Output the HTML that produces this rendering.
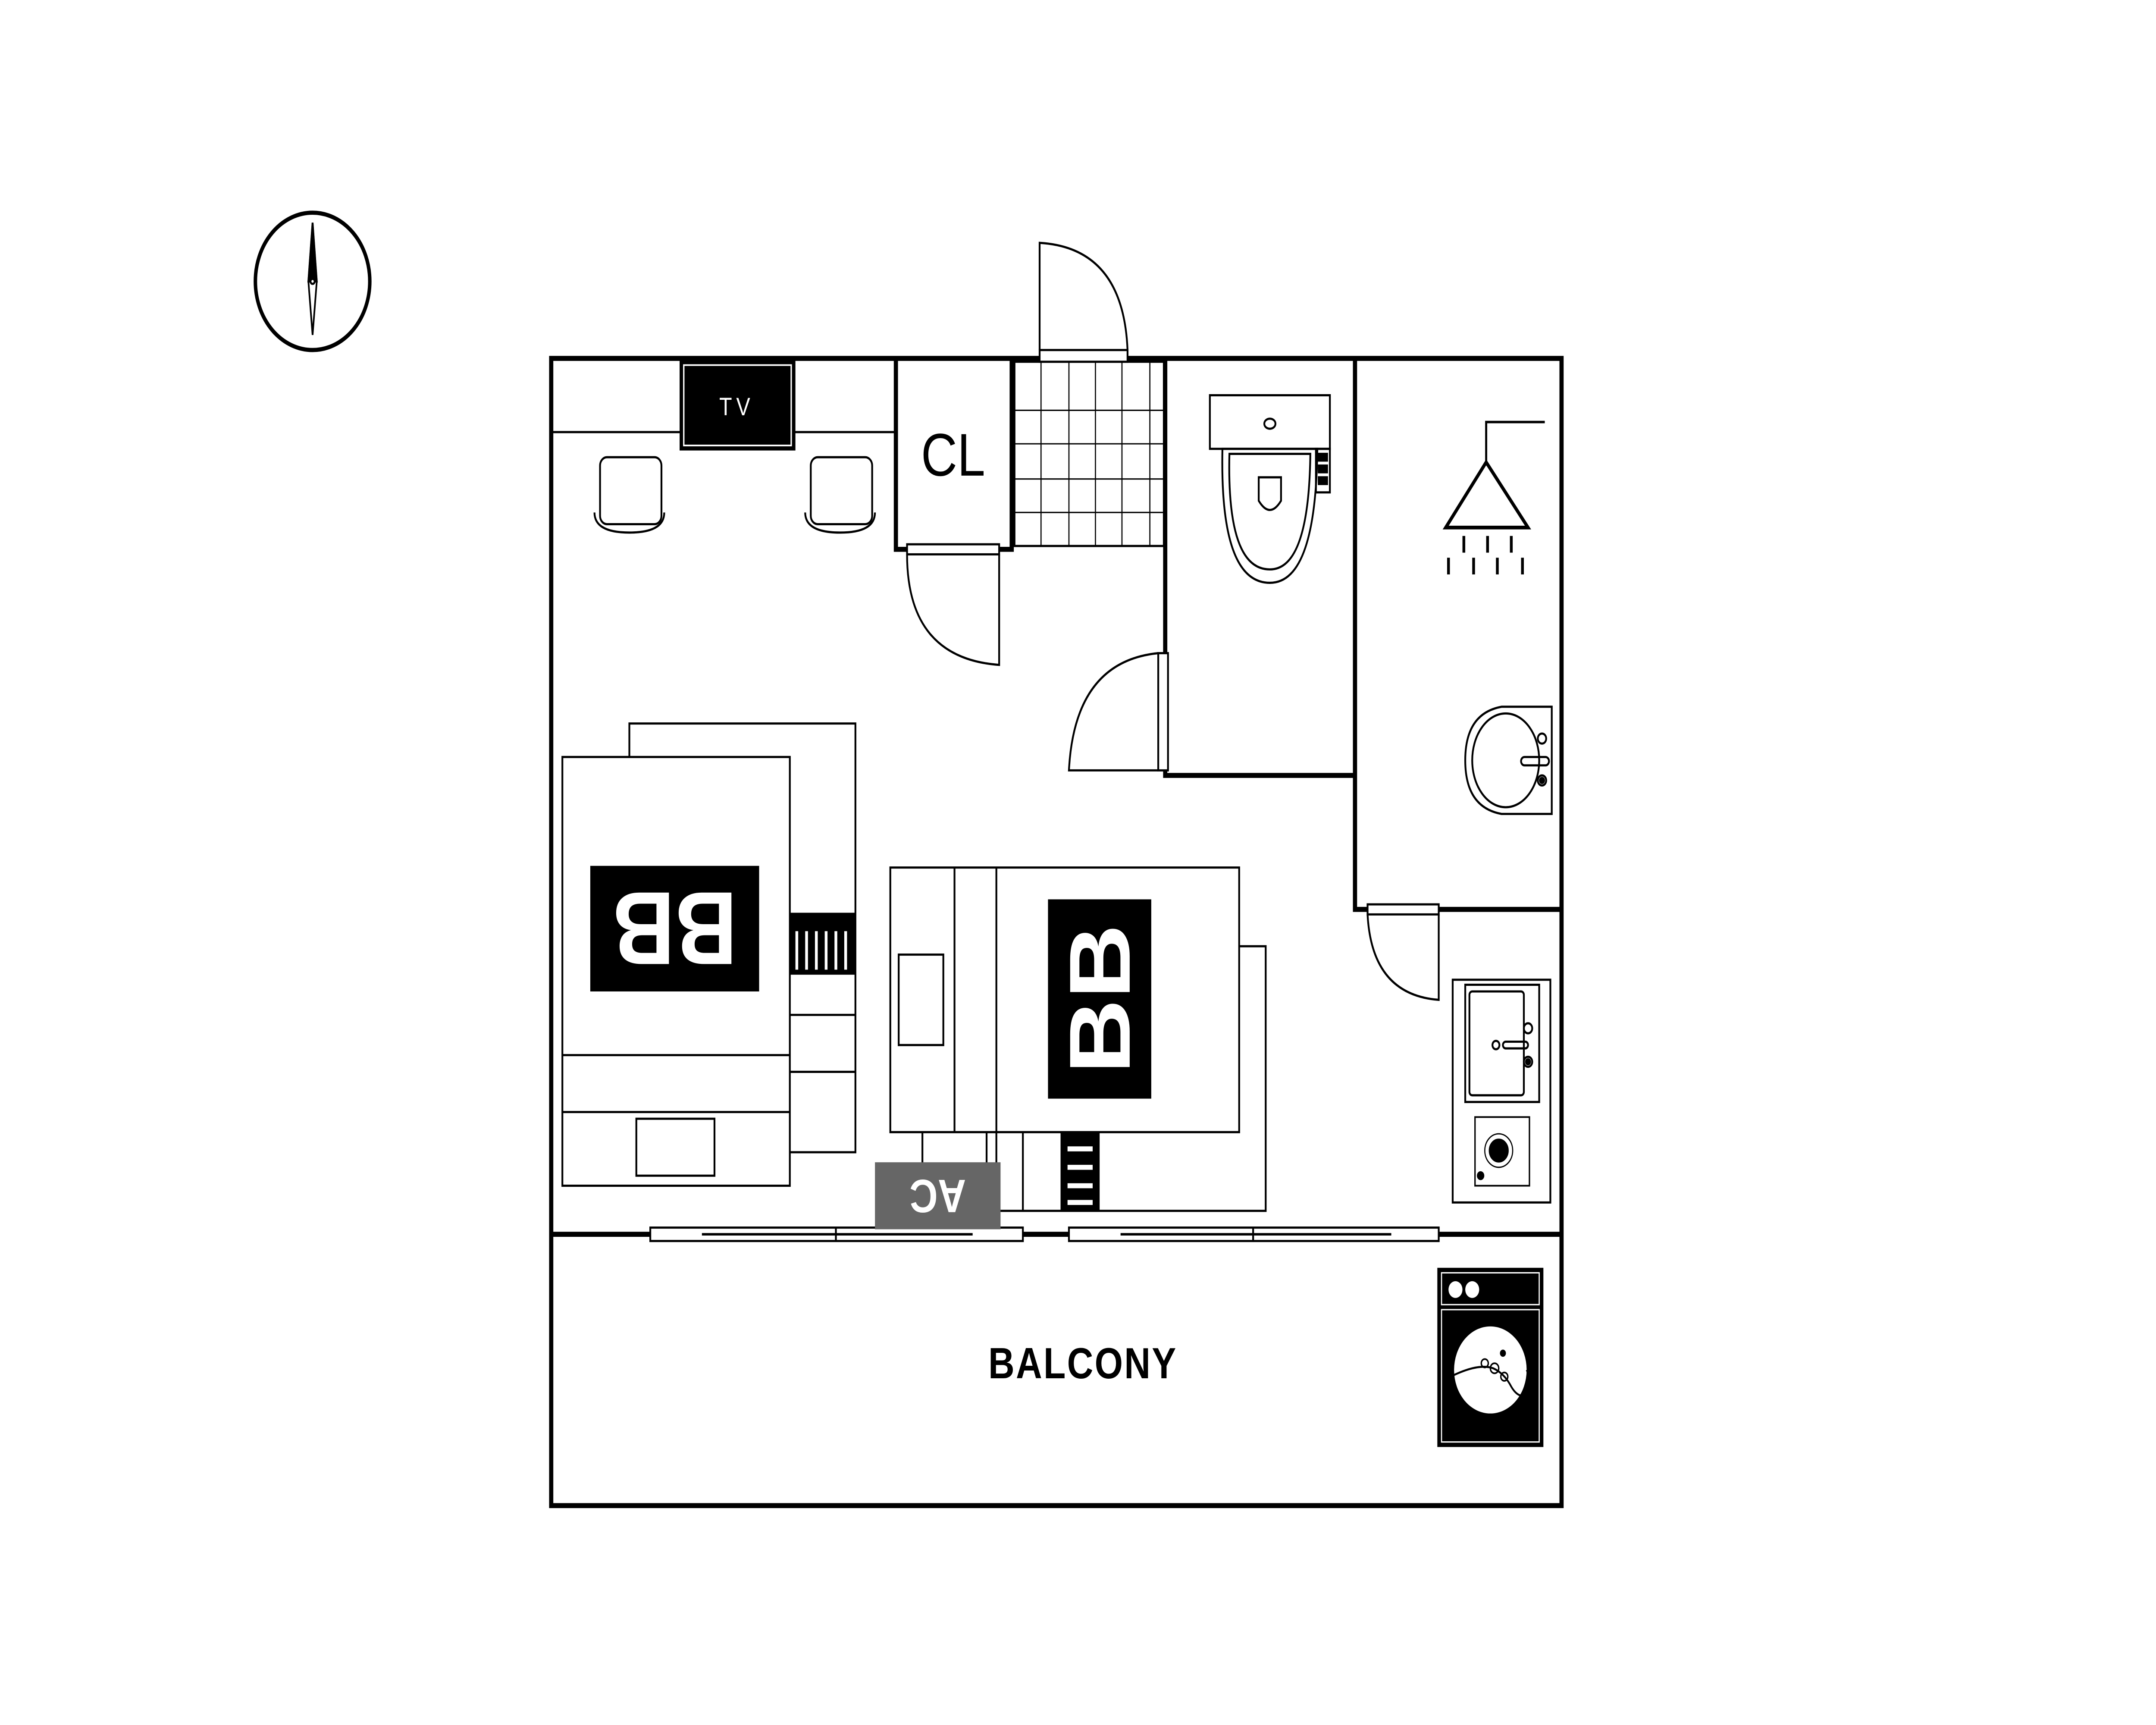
<!DOCTYPE html>
<html><head><meta charset="utf-8"><style>html,body{margin:0;padding:0;background:#fff;width:100%;height:100%;overflow:hidden}svg{display:block;width:100vw;height:100vh;position:fixed;left:0;top:0}</style></head>
<body>
<svg xmlns="http://www.w3.org/2000/svg" viewBox="0 0 1545 1030" preserveAspectRatio="none">
<rect width="1545" height="1030" fill="#fff"/>
<g fill="none" stroke="#000" stroke-width="1.3">
<circle cx="224" cy="168" r="41" stroke-width="2.5"/>
<path d="M224 133 L227 168 L224 200 L221 168 Z" stroke-width="1.2"/>
<path d="M224 133 L227 168 L221 168 Z" fill="#000"/>
<circle cx="224" cy="168" r="1.5" fill="#fff"/>

<rect x="395" y="214" width="724" height="685" stroke-width="3"/>
<line x1="395" y1="737" x2="1119" y2="737" stroke-width="3"/>

<line x1="395" y1="258" x2="642" y2="258"/>
<rect x="487" y="215" width="83" height="54" fill="#000" stroke="none"/>
<rect x="490" y="218" width="77" height="48" stroke="#fff" stroke-width="1"/>
<rect x="430" y="273" width="44" height="40" rx="5"/>
<path d="M426 306 Q426 318 451 318 Q476 318 476 306"/>
<rect x="581" y="273" width="44" height="40" rx="5"/>
<path d="M577 306 Q577 318 602 318 Q627 318 627 306"/>

<path d="M642 214 V328 H725 V214" stroke-width="3"/>
<rect x="650" y="325" width="66" height="6" fill="#fff"/>
<path d="M650 331 Q650 393 716 397 V331"/>
<rect x="727" y="216" width="107" height="110" stroke-width="1.3"/>
<g stroke-width="0.8">
<line x1="746" y1="216" x2="746" y2="326"/><line x1="766" y1="216" x2="766" y2="326"/><line x1="785" y1="216" x2="785" y2="326"/><line x1="804" y1="216" x2="804" y2="326"/><line x1="824" y1="216" x2="824" y2="326"/>
<line x1="727" y1="245" x2="834" y2="245"/><line x1="727" y1="265" x2="834" y2="265"/><line x1="727" y1="286" x2="834" y2="286"/><line x1="727" y1="306" x2="834" y2="306"/>
</g>
<rect x="745" y="209" width="63" height="7" fill="#fff"/>
<path d="M745 209 V145 Q805 148 808 209"/>

<path d="M835 214 V463 H971" stroke-width="3"/>
<rect x="830" y="390" width="7" height="70" fill="#fff"/>
<path d="M830 390 Q770 395 766 460 H830"/>
<rect x="867" y="236" width="86" height="32"/>
<ellipse cx="910" cy="253" rx="4" ry="3"/>
<rect x="943" y="268" width="10" height="26"/>
<rect x="945" y="271" width="6" height="4" fill="#000"/><rect x="945" y="278" width="6" height="4" fill="#000"/><rect x="945" y="285" width="6" height="4" fill="#000"/>
<path d="M876 268 Q874 348 910 348 Q943 348 944 268 Z"/>
<path d="M881 271 Q879 340 910 340 Q938 340 939 271 Z"/>
<path d="M902 285 V299 Q910 310 918 299 V285 Z"/>

<path d="M971 214 V543 H1119" stroke-width="3"/>
<path d="M1065 278 V252 H1107" stroke-width="1.5"/>
<path d="M1065 276 L1036 315 H1095 Z" stroke-width="2.2"/>
<g stroke-width="2"><line x1="1038" y1="333" x2="1038" y2="343"/><line x1="1049" y1="320" x2="1049" y2="330"/><line x1="1056" y1="333" x2="1056" y2="343"/><line x1="1066" y1="320" x2="1066" y2="330"/><line x1="1073" y1="333" x2="1073" y2="343"/><line x1="1083" y1="320" x2="1083" y2="330"/><line x1="1091" y1="333" x2="1091" y2="343"/></g>
<path d="M1076 422 H1112 V486 H1076 Q1050 482 1050 454 Q1050 426 1076 422 Z"/>
<ellipse cx="1079" cy="454" rx="24" ry="28"/>
<rect x="1090" y="452" width="20" height="5" rx="2.5"/>
<circle cx="1105" cy="441" r="3"/><circle cx="1105" cy="466" r="3"/><circle cx="1105" cy="466" r="1.5" fill="#000"/>
<rect x="980" y="540" width="51" height="6" fill="#fff"/>
<path d="M980 546 Q983 594 1031 597 V546"/>

<rect x="1041" y="585" width="70" height="133"/>
<rect x="1050" y="588" width="53" height="70"/>
<rect x="1053" y="592" width="39" height="62" rx="2"/>
<rect x="1077" y="622" width="18" height="4" rx="2"/>
<circle cx="1072" cy="624" r="2.5"/>
<circle cx="1095" cy="614" r="3"/><circle cx="1095" cy="634" r="3"/><circle cx="1095" cy="634" r="1.5" fill="#000"/>
<rect x="1057" y="667" width="39" height="41" stroke-width="1"/>
<circle cx="1074" cy="687" r="10" stroke-width="0.8"/>
<circle cx="1074" cy="687" r="6.5" fill="#000"/>
<circle cx="1061" cy="702" r="2" fill="#000"/>

<rect x="451" y="432" width="162" height="256" fill="#fff"/>
<rect x="566" y="545" width="47" height="37" fill="#000" stroke="none"/>
<g stroke="#fff" stroke-width="2"><line x1="571" y1="556" x2="571" y2="579"/><line x1="578" y1="556" x2="578" y2="579"/><line x1="585" y1="556" x2="585" y2="579"/><line x1="592" y1="556" x2="592" y2="579"/><line x1="599" y1="556" x2="599" y2="579"/><line x1="606" y1="556" x2="606" y2="579"/></g>
<line x1="566" y1="606" x2="613" y2="606"/><line x1="566" y1="640" x2="613" y2="640"/>
<rect x="403" y="452" width="163" height="256" fill="#fff"/>
<line x1="403" y1="630" x2="566" y2="630"/><line x1="403" y1="664" x2="566" y2="664"/>
<rect x="456" y="668" width="56" height="34"/>
<rect x="423" y="517" width="121" height="75" fill="#000" stroke="none"/>
<text x="483.5" y="554.5" transform="rotate(180 483.5 554.5)" text-anchor="middle" dominant-baseline="central" font-family="Liberation Sans, sans-serif" font-weight="bold" font-size="62" fill="#fff" stroke="none">BB</text>

<rect x="714" y="565" width="193" height="158" fill="#fff"/>
<rect x="760" y="676" width="28" height="47" fill="#000" stroke="none"/>
<g stroke="#fff" stroke-width="3"><line x1="765" y1="686" x2="783" y2="686"/><line x1="765" y1="697" x2="783" y2="697"/><line x1="765" y1="708" x2="783" y2="708"/><line x1="765" y1="718" x2="783" y2="718"/></g>
<line x1="733" y1="676" x2="733" y2="723"/>
<line x1="661" y1="676" x2="661" y2="695"/><line x1="707" y1="676" x2="707" y2="695"/>
<rect x="638" y="518" width="250" height="158" fill="#fff"/>
<line x1="684" y1="518" x2="684" y2="676"/><line x1="714" y1="518" x2="714" y2="676"/>
<rect x="644" y="570" width="32" height="54"/>
<rect x="751" y="537" width="74" height="119" fill="#000" stroke="none"/>
<text x="788" y="596.5" transform="rotate(-90 788 596.5)" text-anchor="middle" dominant-baseline="central" font-family="Liberation Sans, sans-serif" font-weight="bold" font-size="62" fill="#fff" stroke="none">BB</text>

<rect x="466" y="733" width="267" height="8" fill="#fff"/>
<line x1="599" y1="733" x2="599" y2="741"/><line x1="503" y1="737" x2="697" y2="737" stroke-width="1.5"/>
<rect x="766" y="733" width="265" height="8" fill="#fff"/>
<line x1="898" y1="733" x2="898" y2="741"/><line x1="803" y1="737" x2="997" y2="737" stroke-width="1.5"/>
<rect x="627" y="694" width="90" height="40" fill="#666" stroke="none"/>
<text x="672" y="714" transform="rotate(180 672 714)" text-anchor="middle" dominant-baseline="central" font-family="Liberation Sans, sans-serif" font-weight="bold" font-size="28" fill="#fff" stroke="none">AC</text>

<text x="776" y="823" text-anchor="middle" font-family="Liberation Sans, sans-serif" font-weight="bold" font-size="26" fill="#000" stroke="none" letter-spacing="1">BALCONY</text>
<rect x="1030" y="757" width="76" height="107" fill="#000" stroke="none"/>
<rect x="1033" y="760" width="70" height="19" stroke="#fff" stroke-width="0.8"/>
<rect x="1033" y="782" width="70" height="79" stroke="#fff" stroke-width="0.8"/>
<circle cx="1043" cy="770" r="5" fill="#fff" stroke="none"/><circle cx="1055" cy="770" r="5" fill="#fff" stroke="none"/>
<circle cx="1068" cy="818" r="26" fill="#fff" stroke="none"/>
<path d="M1042 821 Q1060 814 1070 817 Q1078 820 1083 828 Q1090 838 1100 830 L1094 818" stroke-width="1.2"/>
<circle cx="1064" cy="814" r="2.5" stroke-width="1"/><circle cx="1071" cy="817" r="3" stroke-width="1"/><circle cx="1078" cy="822" r="2.5" stroke-width="1"/><circle cx="1077" cy="808" r="1.5" fill="#000"/>
</g>
<text x="528" y="248" text-anchor="middle" font-family="Liberation Sans, sans-serif" font-size="15" fill="#fff" letter-spacing="3">TV</text>
<text x="683" y="284" text-anchor="middle" font-family="Liberation Sans, sans-serif" font-size="36" fill="#000">CL</text>
</svg>
</body></html>
